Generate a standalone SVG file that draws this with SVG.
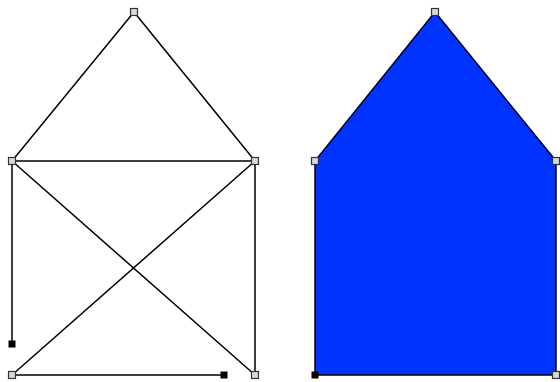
<svg xmlns="http://www.w3.org/2000/svg" width="560" height="382" viewBox="0 0 560 382">
<style>
.ln{fill:none;stroke:#000;stroke-width:1.5;stroke-linejoin:round}
.house{fill:#0033ff;stroke:#000;stroke-width:1.5;stroke-linejoin:round}
.v{fill:#d8d8d8;stroke:#333;stroke-width:1.2}
.e{fill:#000;stroke:#000;stroke-width:1}
</style>
<rect width="560" height="382" fill="#fff"/>
<g id="connectors">
<polyline class="ln" points="12,344 12,161 134,12 255,161 12,161 255,375 255,161 12,375 224,375"/>
<polygon class="house" points="315,375 315,161 435,12 556,161 556,375"/>
</g>
<g id="left-house">
<rect class="v" x="130.5" y="8.5" width="7" height="7"/>
<rect class="v" x="8.5" y="157.5" width="7" height="7"/>
<rect class="v" x="251.5" y="157.5" width="7" height="7"/>
<rect class="v" x="8.5" y="371.5" width="7" height="7"/>
<rect class="v" x="251.5" y="371.5" width="7" height="7"/>
<rect class="e" x="9" y="341" width="6" height="6"/>
<rect class="e" x="221" y="372" width="6" height="6"/>
</g>
<g id="right-house">
<rect class="v" x="431.5" y="8.5" width="7" height="7"/>
<rect class="v" x="311.5" y="157.5" width="7" height="7"/>
<rect class="v" x="552.5" y="157.5" width="7" height="7"/>
<rect class="v" x="552.5" y="371.5" width="7" height="7"/>
<rect class="e" x="312" y="372" width="6" height="6"/>
</g>
</svg>
